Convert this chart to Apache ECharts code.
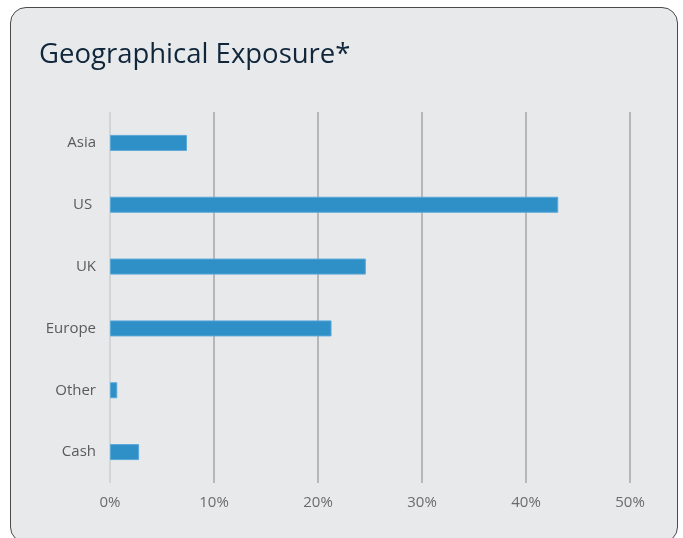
<!DOCTYPE html>
<html>
<head>
<meta charset="utf-8">
<script src="https://cdn.jsdelivr.net/npm/echarts@6/dist/echarts.min.js"></script>
<style>
  html, body { margin: 0; padding: 0; background: #ffffff; width: 683px; height: 538px; overflow: hidden; }
  #card { position: absolute; left: 10px; top: 7px; width: 666px; height: 534px; background: #e8e9eb; border: 1px solid #4a4a4a; border-radius: 16px; }
  #chart { position: absolute; left: 0; top: 0; width: 683px; height: 538px; }
</style>
</head>
<body>
<div id="card"></div>
<div id="chart"></div>
<script>
const categories = ['Asia', 'US ', 'UK', 'Europe', 'Other', 'Cash'];
const exposure = [7.4, 43.1, 24.6, 21.3, 0.7, 2.8];
const tickLabels = ['0%', '10%', '20%', '30%', '40%', '50%'];

const chart = echarts.init(document.getElementById('chart'), null, { renderer: 'canvas' });
chart.setOption({
  backgroundColor: 'transparent',
  animation: false,
  title: {
    text: 'Geographical Exposure*',
    left: 34, top: 36,
    textStyle: { fontFamily: 'Open Sans', fontSize: 27.5, fontWeight: 'normal', color: '#10263b' }
  },
  grid: { left: 110, right: 53, top: 112, bottom: 55, containLabel: false },
  xAxis: {
    type: 'value', min: 0, max: 50, interval: 10,
    axisLine: { show: false }, axisTick: { show: false },
    axisLabel: {
      margin: 12, color: '#6b6b6b', fontFamily: 'Open Sans', fontSize: 15,
      formatter: function (v) { return tickLabels[Math.round(v / 10)]; }
    },
    splitLine: { show: true, lineStyle: { color: ['#d4d5d7', '#b7b7b9', '#b7b7b9', '#b7b7b9', '#b7b7b9', '#b7b7b9'], width: 2 } }
  },
  yAxis: {
    type: 'category', data: categories, inverse: true,
    axisLine: { show: false }, axisTick: { show: false },
    axisLabel: { margin: 14, color: '#5a5a5a', fontFamily: 'Open Sans', fontSize: 15 }
  },
  series: [{
    type: 'bar', data: exposure, barWidth: 16,
    itemStyle: { color: '#2f8fc7', borderColor: '#5aa8d6', borderWidth: 1 }
  }]
});
</script>
</body>
</html>
